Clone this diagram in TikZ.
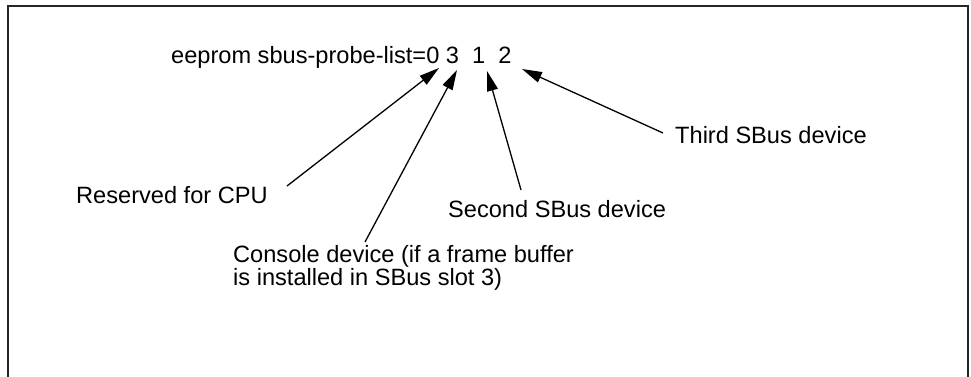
\documentclass[tikz,border=0pt]{standalone}
\usepackage{fontspec}
\setmainfont{Liberation Sans}
\usetikzlibrary{arrows.meta}
\begin{document}
\begin{tikzpicture}[x=1pt,y=-1pt,
  lbl/.style={anchor=base west,inner sep=0pt,font=\fontsize{23.6}{23}\selectfont,align=left},
  pointer/.style={draw=black,line width=1.3pt,-{Triangle[length=20pt,width=11pt]}},
  frameline/.style={draw=black!85,line width=1.4pt}]
\useasboundingbox (0,0) rectangle (971,376);
\draw[frameline] (8,377) -- (8,6) -- (968,6) -- (968,377);
\node[lbl] (cmd) at (171,63) {eeprom sbus-probe-list=0 3\ \ 1\ \ 2};
\node[lbl] (cpu) at (76,203) {Reserved for CPU};
\node[lbl] (cons) at (233,285) {Console device (if a frame buffer\\is installed in SBus slot 3)};
\node[lbl] (second) at (448,217) {Second SBus device};
\node[lbl] (third) at (675,143) {Third SBus device};
\coordinate (tip0) at (439,68);
\coordinate (tip3) at (457,70);
\coordinate (tip1) at (487,71);
\coordinate (tip2) at (522,69);
\coordinate (tailcpu) at (287,186);
\coordinate (tailcons) at (365,242);
\coordinate (tailsecond) at (521,190);
\coordinate (tailthird) at (663,133);
\draw[pointer] (tailcpu) -- (tip0);
\draw[pointer] (tailcons) -- (tip3);
\draw[pointer] (tailsecond) -- (tip1);
\draw[pointer] (tailthird) -- (tip2);
\end{tikzpicture}
\end{document}
